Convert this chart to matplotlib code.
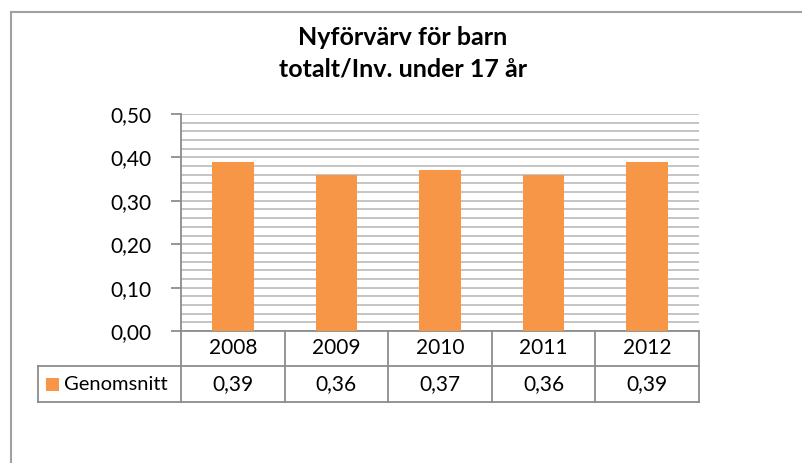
import numpy as np
import matplotlib
matplotlib.use('Agg')
from matplotlib import pyplot as plt
from matplotlib.lines import Line2D
from matplotlib.patches import Rectangle
import matplotlib.transforms as mtransforms

plt.rcParams['font.family'] = ['Lato', 'DejaVu Sans']
plt.rcParams['font.size'] = 14

years = ['2008', '2009', '2010', '2011', '2012']
values = [0.39, 0.36, 0.37, 0.36, 0.39]
series_name = 'Genomsnitt'
title = 'Nyförvärv för barn\ntotalt/Inv. under 17 år'

W, H = 802, 463
bar_color = '#F79646'
grid_color = '#C4C4C4'
table_color = '#8C8C8C'

fig = plt.figure(figsize=(W / 100, H / 100), dpi=100)

def fx(px):
    return px / W

def fy(py):
    return 1 - py / H

# plot area in pixels
left, right, top, bottom = 181, 699, 114, 331
ax = fig.add_axes([fx(left), fy(bottom), fx(right - left), (bottom - top) / H])

x = np.arange(len(years))
ax.bar(x, values, width=0.4, color=bar_color, zorder=3)
ax.set_xlim(-0.5, len(years) - 0.5)
ax.set_ylim(0, 0.5)
major = np.arange(0, 0.51, 0.1)
ax.set_yticks(major)
ax.set_yticks(np.arange(0, 0.51, 0.02), minor=True)
ax.set_yticklabels([('%.2f' % v).replace('.', ',') for v in major])
ax.grid(axis='y', which='both', color=grid_color, linewidth=1.4, zorder=0)
ax.set_xticks([])
for s in ['top', 'right']:
    ax.spines[s].set_visible(False)
for s in ['left', 'bottom']:
    ax.spines[s].set_color(table_color)
    ax.spines[s].set_linewidth(1.3)
ax.tick_params(axis='y', which='major', direction='out', length=7, width=1.3,
               color=table_color, pad=14, labelsize=15)
ax.tick_params(axis='y', which='minor', length=0)

# data table under the axes
trans = mtransforms.blended_transform_factory(ax.transData, ax.transAxes)
h_ax = bottom - top
row1 = -(366 - bottom) / h_ax
row2 = -(402 - bottom) / h_ax
lkw = dict(color=table_color, linewidth=1.3, clip_on=False)

for i, (yr, v) in enumerate(zip(years, values)):
    ax.text(i, row1 / 2, yr, transform=trans, ha='center', va='center', fontsize=15)
    ax.text(i, (row1 + row2) / 2, ('%.2f' % v).replace('.', ','), transform=trans,
            ha='center', va='center', fontsize=15)
for edge in np.arange(-0.5, len(years), 1.0):
    ax.add_line(Line2D([edge, edge], [0, row2], transform=trans, **lkw))
ax.add_line(Line2D([-0.5, len(years) - 0.5], [row1, row1], transform=trans, **lkw))
ax.add_line(Line2D([-0.5, len(years) - 0.5], [row2, row2], transform=trans, **lkw))

# legend cell
leg_left = 38
for yy in [366, 402]:
    fig.add_artist(Line2D([fx(leg_left), fx(left)], [fy(yy), fy(yy)],
                          transform=fig.transFigure, color=table_color, linewidth=1.3))
fig.add_artist(Line2D([fx(leg_left), fx(leg_left)], [fy(366), fy(402)],
                      transform=fig.transFigure, color=table_color, linewidth=1.3))
fig.add_artist(Rectangle((fx(46), fy(391)), fx(13), 13 / H, transform=fig.transFigure,
                         facecolor=bar_color, edgecolor='none'))
fig.text(fx(64), fy(384), series_name, ha='left', va='center', fontsize=14.5)

# chart frame
fig.add_artist(Line2D([fx(11), 1], [fy(12), fy(12)], transform=fig.transFigure,
                      color='#A0A0A0', linewidth=1.5))
fig.add_artist(Line2D([fx(11), fx(11)], [fy(12), 0], transform=fig.transFigure,
                      color='#A0A0A0', linewidth=1.5))

fig.text(fx(403), fy(53), title, ha='center', va='center', fontsize=18,
         fontweight='bold', linespacing=1.45)

plt.savefig('out.png', dpi=100)
